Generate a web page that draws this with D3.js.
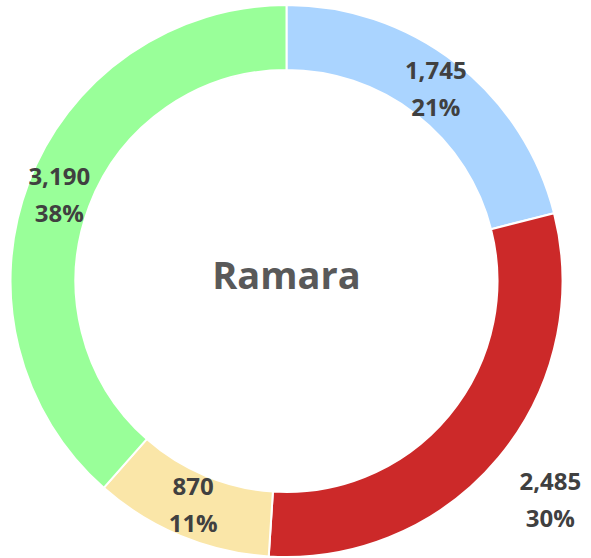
<!DOCTYPE html>
<html><head><meta charset="utf-8">
<script src="https://cdn.jsdelivr.net/npm/d3@7"></script>
<style>body{margin:0;background:#fff}svg{display:block}</style>
</head><body>
<svg id="c" width="591" height="558"></svg>
<script>
const categories = ["A", "B", "C", "D"];
const values = [1745, 2485, 870, 3190];
const percents = [21, 30, 11, 38];
const colors = ["#AAD4FF", "#CC2929", "#FAE6A8", "#99FF99"];
const title = "Ramara";
const labelOutside = [false, true, false, false];

const W = 591, H = 558;
const cx = 286.5, cy = 281, rOuter = 276, rInner = 211;
const svg = d3.select("#c");
const g = svg.append("g").attr("transform", `translate(${cx},${cy})`);
const pie = d3.pie().sort(null).value(d => d)(values);
const arc = d3.arc().innerRadius(rInner).outerRadius(rOuter);
g.selectAll("path").data(pie).enter().append("path")
  .attr("d", arc).attr("fill", (d, i) => colors[i])
  .attr("stroke", "#fff").attr("stroke-width", 2);

const fmt = d3.format(",");
const font = "'Open Sans', Lato, sans-serif";
const lab = g.selectAll("g.lab").data(pie).enter().append("g").attr("class", "lab")
  .attr("transform", (d, i) => {
    const r = labelOutside[i] ? 343 : 243;
    const a = (d.startAngle + d.endAngle) / 2;
    return `translate(${Math.sin(a) * r},${-Math.cos(a) * r})`;
  });
lab.append("text").attr("y", -18.5).attr("dy", "0.35em").attr("text-anchor", "middle")
  .attr("font-family", font).attr("font-weight", "bold")
  .attr("font-size", 24).attr("fill", "#404040").text(d => fmt(d.value));
lab.append("text").attr("y", 18.5).attr("dy", "0.35em").attr("text-anchor", "middle")
  .attr("font-family", font).attr("font-weight", "bold")
  .attr("font-size", 24).attr("fill", "#404040")
  .text((d, i) => percents[i] + "%");

g.append("text").attr("text-anchor", "middle").attr("dy", "0.35em").attr("y", -5)
  .attr("font-family", font).attr("font-weight", "bold")
  .attr("font-size", 38).attr("fill", "#595959").text(title);
</script>
</body></html>
